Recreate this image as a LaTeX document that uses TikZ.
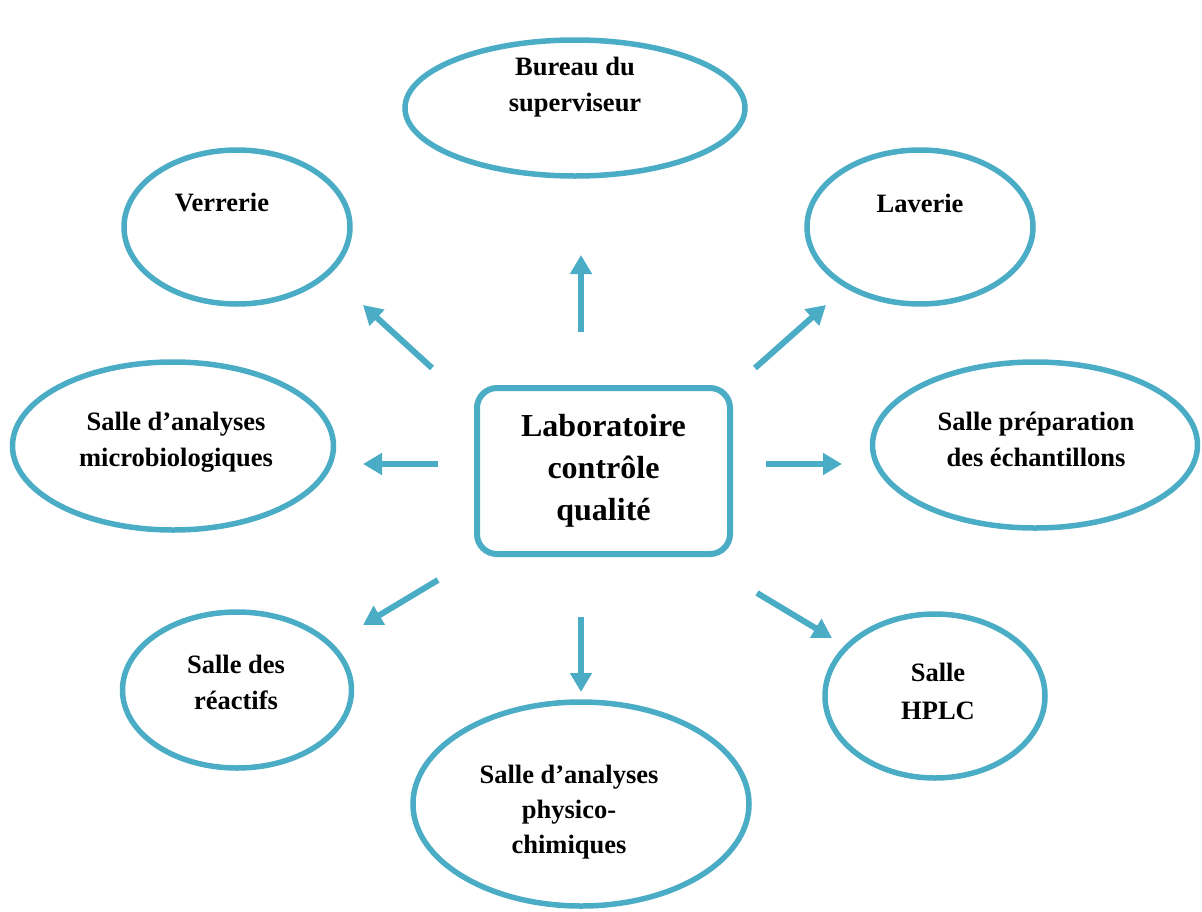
\documentclass[tikz,border=0pt]{standalone}
\usepackage{fontspec}
\setmainfont{Liberation Serif}
\usetikzlibrary{shapes.geometric,arrows.meta}
\definecolor{aqua}{HTML}{4BACC6}
\begin{document}
\begin{tikzpicture}[x=1pt,y=-1pt,
  room/.style={ellipse,draw=aqua,line width=5.5pt,inner sep=0pt},
  lab/.style={font=\fontsize{26.5}{36}\selectfont\bfseries,align=center,inner sep=0pt},
  arr/.style={draw=aqua,line width=6pt,-{Triangle[width=21pt,length=19pt]},fill=aqua}
]
\useasboundingbox (0,0) rectangle (1202,911);
% rooms
\node[room,minimum width=340pt,minimum height=136pt] (bureau) at (575,108) {};
\node[room,minimum width=226pt,minimum height=154pt] (verrerie) at (237,227) {};
\node[room,minimum width=226pt,minimum height=154pt] (laverie) at (920,227) {};
\node[room,minimum width=321pt,minimum height=168pt] (micro) at (173,446) {};
\node[room,minimum width=325pt,minimum height=166pt] (prep) at (1035,445) {};
\node[room,minimum width=229pt,minimum height=156pt] (reactifs) at (237,690) {};
\node[room,minimum width=220pt,minimum height=164pt] (hplc) at (935,696) {};
\node[room,minimum width=336pt,minimum height=204pt] (physico) at (581,804) {};
% labels
\node[lab] (tbureau) at (575,87) {Bureau du\\superviseur};
\node[lab] (tverrerie) at (222,203) {Verrerie};
\node[lab] (tlaverie) at (920,203) {Laverie};
\node[lab] (tmicro) at (176,442) {Salle d’analyses\\microbiologiques};
\node[lab] (tprep) at (1036,439) {Salle préparation\\des échantillons};
\node[lab] (treactifs) at (236,682) {Salle des\\réactifs};
\node[lab,font=\fontsize{26.5}{38}\selectfont\bfseries] (thplc) at (938,691) {Salle\\HPLC};
\node[lab,font=\fontsize{26.5}{35}\selectfont\bfseries] (tphysico) at (569,812) {Salle d’analyses\\physico-\\chimiques};
% center
\node[draw=aqua,line width=6pt,rounded corners=20pt,minimum width=253pt,minimum height=166pt,
  font=\fontsize{32}{42}\selectfont\bfseries,align=center] (center) at (603.5,471) {Laboratoire\\contrôle\\qualité};
% arrow endpoints
\coordinate (n0) at (581,332); \coordinate (n1) at (581,255);
\coordinate (nw0) at (432,368); \coordinate (nw1) at (363,305);
\coordinate (ne0) at (755,368); \coordinate (ne1) at (826,305);
\coordinate (w0) at (438,464); \coordinate (w1) at (363,464);
\coordinate (e0) at (766,464); \coordinate (e1) at (842,464);
\coordinate (sw0) at (438,580); \coordinate (sw1) at (363,625);
\coordinate (s0) at (581,617); \coordinate (s1) at (581,692);
\coordinate (se0) at (757,593); \coordinate (se1) at (832,638);
\foreach \a in {n,nw,ne,w,e,sw,s,se}{\draw[arr] (\a0) -- (\a1);}
\end{tikzpicture}
\end{document}
